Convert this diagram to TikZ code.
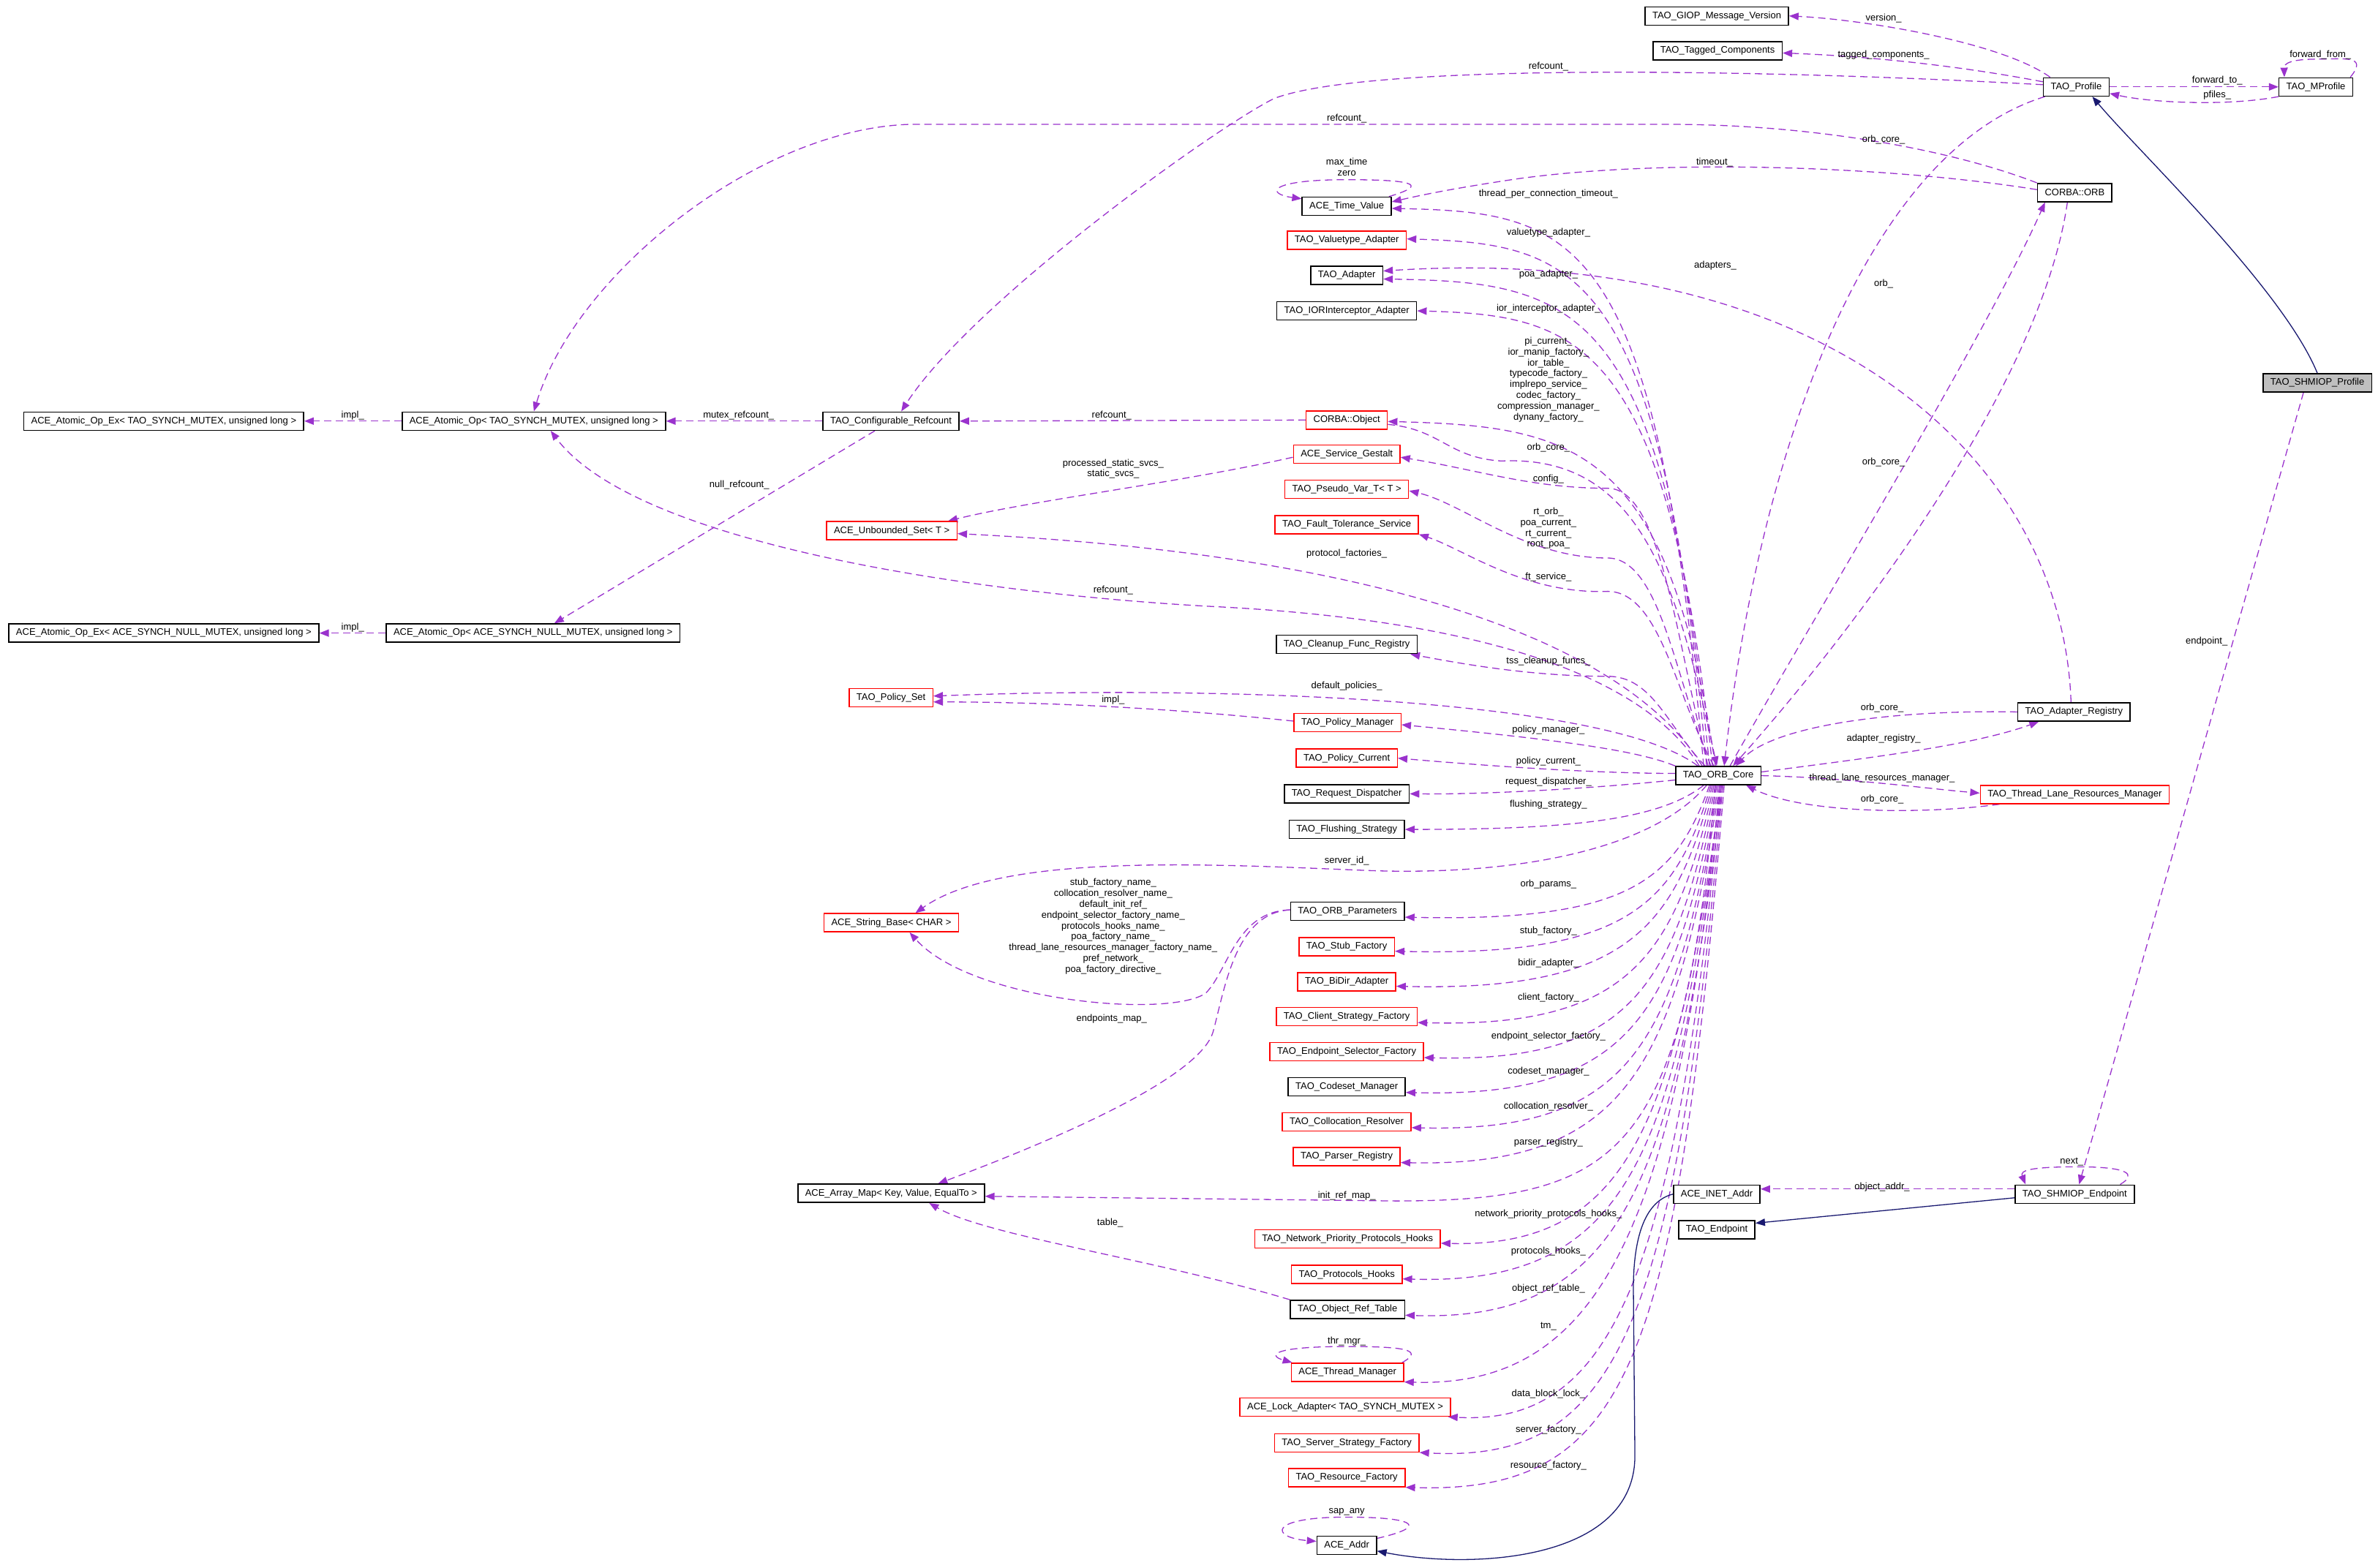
\documentclass[tikz,border=0pt]{standalone}
\usepackage{fontspec}
\setmainfont{Liberation Sans}
\usetikzlibrary{arrows.meta,backgrounds}
\definecolor{usecol}{HTML}{9A32CD}
\definecolor{inhcol}{HTML}{191970}
\definecolor{boxgrey}{HTML}{BFBFBF}
\newcommand{\dgfont}{\fontsize{13}{14.8}\selectfont}
\tikzset{
  box/.style={shape=rectangle,draw=black,line width=1.5pt,fill=white,font=\dgfont,inner xsep=10pt,inner ysep=2pt,minimum height=25pt},
  redbox/.style={box,draw=red},
  greybox/.style={box,fill=boxgrey},
  lbl/.style={font=\dgfont,inner sep=0pt,align=center},
  use/.style={draw=usecol,line width=1.3pt,dash pattern=on 10pt off 6pt,-{Triangle[length=13pt,width=10pt]}},
  inh/.style={draw=inhcol,line width=1.3pt,-{Triangle[length=13pt,width=10pt]}}
}

\begin{document}
\begin{tikzpicture}[x=2.0733pt,y=-2.0733pt]
  \useasboundingbox (0,0) rectangle (1568,1033.7);
  % classes
  \node[box] (GIOPVer) at (1132,10.5) {TAO\_GIOP\_Message\_Version};
  \node[box] (Tagged) at (1132.5,33.5) {TAO\_Tagged\_Components};
  \node[box] (Profile) at (1369,57.3) {TAO\_Profile};
  \node[box] (MProfile) at (1527,57.3) {TAO\_MProfile};
  \node[box] (ORB) at (1368,127) {CORBA::ORB};
  \node[greybox] (SHMProfile) at (1528,252.5) {TAO\_SHMIOP\_Profile};
  \node[box] (TimeValue) at (888,136) {ACE\_Time\_Value};
  \node[redbox] (Valuetype) at (888,158.5) {TAO\_Valuetype\_Adapter};
  \node[box] (Adapter) at (888,181.6) {TAO\_Adapter};
  \node[box] (IORInt) at (888,205) {TAO\_IORInterceptor\_Adapter};
  \node[box] (AtomicExMutex) at (108,277.7) {ACE\_Atomic\_Op\_Ex< TAO\_SYNCH\_MUTEX, unsigned long >};
  \node[box] (AtomicMutex) at (352,277.7) {ACE\_Atomic\_Op< TAO\_SYNCH\_MUTEX, unsigned long >};
  \node[box] (CfgRefcount) at (587.5,277.7) {TAO\_Configurable\_Refcount};
  \node[redbox] (CorbaObj) at (888,277) {CORBA::Object};
  \node[redbox] (Gestalt) at (888,299.6) {ACE\_Service\_Gestalt};
  \node[redbox] (PseudoVar) at (888,322.7) {TAO\_Pseudo\_Var\_T< T >};
  \node[redbox] (FaultTol) at (888,346) {TAO\_Fault\_Tolerance\_Service};
  \node[redbox] (UnbSet) at (588,350) {ACE\_Unbounded\_Set< T >};
  \node[box] (AtomicExNull) at (108,417.5) {ACE\_Atomic\_Op\_Ex< ACE\_SYNCH\_NULL\_MUTEX, unsigned long >};
  \node[box] (AtomicNull) at (351.5,417.5) {ACE\_Atomic\_Op< ACE\_SYNCH\_NULL\_MUTEX, unsigned long >};
  \node[box] (Cleanup) at (888,425) {TAO\_Cleanup\_Func\_Registry};
  \node[redbox] (PolicySet) at (587.5,460) {TAO\_Policy\_Set};
  \node[redbox] (PolicyMgr) at (888.5,476.5) {TAO\_Policy\_Manager};
  \node[box] (AdapterReg) at (1367.5,469.5) {TAO\_Adapter\_Registry};
  \node[redbox] (PolicyCur) at (888,500) {TAO\_Policy\_Current};
  \node[box] (ORBCore) at (1133,511.5) {TAO\_ORB\_Core};
  \node[redbox] (TLRM) at (1368,524) {TAO\_Thread\_Lane\_Resources\_Manager};
  \node[box] (ReqDisp) at (888,523.5) {TAO\_Request\_Dispatcher};
  \node[box] (Flushing) at (888,547) {TAO\_Flushing\_Strategy};
  \node[redbox] (StringBase) at (587.7,608.5) {ACE\_String\_Base< CHAR >};
  \node[box] (ORBParams) at (888.5,601) {TAO\_ORB\_Parameters};
  \node[redbox] (StubFact) at (888,624.4) {TAO\_Stub\_Factory};
  \node[redbox] (BiDir) at (888,647.5) {TAO\_BiDir\_Adapter};
  \node[redbox] (ClientStrat) at (888,670.5) {TAO\_Client\_Strategy\_Factory};
  \node[redbox] (EndpSel) at (888,693.6) {TAO\_Endpoint\_Selector\_Factory};
  \node[box] (Codeset) at (888,716.6) {TAO\_Codeset\_Manager};
  \node[redbox] (Colloc) at (888,739.8) {TAO\_Collocation\_Resolver};
  \node[redbox] (Parser) at (888,762.8) {TAO\_Parser\_Registry};
  \node[box] (ArrayMap) at (587.6,787) {ACE\_Array\_Map< Key, Value, EqualTo >};
  \node[box] (INETAddr) at (1132,787.5) {ACE\_INET\_Addr};
  \node[box] (SHMEndpoint) at (1368,787.5) {TAO\_SHMIOP\_Endpoint};
  \node[box] (Endpoint) at (1132,811) {TAO\_Endpoint};
  \node[redbox] (NetPrio) at (888.5,817) {TAO\_Network\_Priority\_Protocols\_Hooks};
  \node[redbox] (ProtoHooks) at (888,840.5) {TAO\_Protocols\_Hooks};
  \node[box] (ObjRefTable) at (888.5,863.5) {TAO\_Object\_Ref\_Table};
  \node[redbox] (ThreadMgr) at (888.5,905) {ACE\_Thread\_Manager};
  \node[redbox] (LockAdapter) at (887,928) {ACE\_Lock\_Adapter< TAO\_SYNCH\_MUTEX >};
  \node[redbox] (ServerStrat) at (888,951.5) {TAO\_Server\_Strategy\_Factory};
  \node[redbox] (ResFact) at (888,974.5) {TAO\_Resource\_Factory};
  \node[box] (Addr) at (888,1019) {ACE\_Addr};

  % member labels
  \node[lbl] (lVersion) at (1242,12) {version\_};
  \node[lbl] (lTagged) at (1242,36) {tagged\_components\_};
  \node[lbl] (lProfRef) at (1021,44) {refcount\_};
  \node[lbl] (lFwdTo) at (1462,53) {forward\_to\_};
  \node[lbl] (lPfiles) at (1462,63) {pfiles\_};
  \node[lbl] (lFwdFrom) at (1530,36) {forward\_from\_};
  \node[lbl] (lOrbRef) at (888,78) {refcount\_};
  \node[lbl] (lProfCore) at (1242,92) {orb\_core\_};
  \node[lbl] (lTimeout) at (1130.5,107) {timeout\_};
  \node[lbl] (lMaxTime) at (888,110.2) {max\_time\\zero};
  \node[lbl] (lTpct) at (1021,128) {thread\_per\_connection\_timeout\_};
  \node[lbl] (lValue) at (1021,153.6) {valuetype\_adapter\_};
  \node[lbl] (lAdapters) at (1131,175) {adapters\_};
  \node[lbl] (lPoa) at (1021,181) {poa\_adapter\_};
  \node[lbl] (lOrb) at (1242,187) {orb\_};
  \node[lbl] (lIor) at (1021,203.5) {ior\_interceptor\_adapter\_};
  \node[lbl] (lObjMembers) at (1021,250.3) {pi\_current\_\\ior\_manip\_factory\_\\ior\_table\_\\typecode\_factory\_\\implrepo\_service\_\\codec\_factory\_\\compression\_manager\_\\dynany\_factory\_};
  \node[lbl] (lImplMutex) at (232.6,274) {impl\_};
  \node[lbl] (lMutexRef) at (487,274) {mutex\_refcount\_};
  \node[lbl] (lObjRef) at (733,274) {refcount\_};
  \node[lbl] (lObjCore) at (1021,295.2) {orb\_core\_};
  \node[lbl] (lOrbCore) at (1242,305) {orb\_core\_};
  \node[lbl] (lStatic) at (734,309.2) {processed\_static\_svcs\_\\static\_svcs\_};
  \node[lbl] (lConfig) at (1021,316) {config\_};
  \node[lbl] (lNullRef) at (487.5,320) {null\_refcount\_};
  \node[lbl] (lPseudo) at (1021,348.4) {rt\_orb\_\\poa\_current\_\\rt\_current\_\\root\_poa\_};
  \node[lbl] (lProtoFact) at (888,365) {protocol\_factories\_};
  \node[lbl] (lFt) at (1021,380.7) {ft\_service\_};
  \node[lbl] (lCoreRef) at (734,389.3) {refcount\_};
  \node[lbl] (lImplNull) at (232.6,413.7) {impl\_};
  \node[lbl] (lEndpoint) at (1455,423) {endpoint\_};
  \node[lbl] (lTss) at (1021,436) {tss\_cleanup\_funcs\_};
  \node[lbl] (lDefPol) at (888,452.7) {default\_policies\_};
  \node[lbl] (lImplPol) at (734,461.6) {impl\_};
  \node[lbl] (lRegCore) at (1241,467) {orb\_core\_};
  \node[lbl] (lPolMgr) at (1021,481.3) {policy\_manager\_};
  \node[lbl] (lAdReg) at (1242,487) {adapter\_registry\_};
  \node[lbl] (lPolCur) at (1021,502) {policy\_current\_};
  \node[lbl] (lTlrm) at (1241,513) {thread\_lane\_resources\_manager\_};
  \node[lbl] (lReqDisp) at (1021,515.6) {request\_dispatcher\_};
  \node[lbl] (lTlrmCore) at (1241,527) {orb\_core\_};
  \node[lbl] (lFlush) at (1021,530.4) {flushing\_strategy\_};
  \node[lbl] (lServerId) at (888,567.5) {server\_id\_};
  \node[lbl] (lOrbParams) at (1021,583) {orb\_params\_};
  \node[lbl] (lNames) at (734,611) {stub\_factory\_name\_\\collocation\_resolver\_name\_\\default\_init\_ref\_\\endpoint\_selector\_factory\_name\_\\protocols\_hooks\_name\_\\poa\_factory\_name\_\\thread\_lane\_resources\_manager\_factory\_name\_\\pref\_network\_\\poa\_factory\_directive\_};
  \node[lbl] (lStub) at (1021,614.2) {stub\_factory\_};
  \node[lbl] (lBidir) at (1021,635.4) {bidir\_adapter\_};
  \node[lbl] (lClient) at (1021,658) {client\_factory\_};
  \node[lbl] (lEndpMap) at (733,671.8) {endpoints\_map\_};
  \node[lbl] (lEndpSel) at (1021,683.3) {endpoint\_selector\_factory\_};
  \node[lbl] (lCodeset) at (1021,706.5) {codeset\_manager\_};
  \node[lbl] (lColloc) at (1021,730) {collocation\_resolver\_};
  \node[lbl] (lParser) at (1021,753.6) {parser\_registry\_};
  \node[lbl] (lNext) at (1366,766) {next\_};
  \node[lbl] (lObjAddr) at (1241,783) {object\_addr\_};
  \node[lbl] (lInitRef) at (888,788.5) {init\_ref\_map\_};
  \node[lbl] (lNetPrio) at (1021,800.5) {network\_priority\_protocols\_hooks\_};
  \node[lbl] (lTable) at (732,806.3) {table\_};
  \node[lbl] (lProtoHooks) at (1021,825.5) {protocols\_hooks\_};
  \node[lbl] (lObjRefTab) at (1021,849.8) {object\_ref\_table\_};
  \node[lbl] (lTm) at (1021,874.8) {tm\_};
  \node[lbl] (lThrMgr) at (888,884.4) {thr\_mgr\_};
  \node[lbl] (lDataBlock) at (1021,919.5) {data\_block\_lock\_};
  \node[lbl] (lServer) at (1021,943.2) {server\_factory\_};
  \node[lbl] (lResource) at (1021,966.5) {resource\_factory\_};
  \node[lbl] (lSapAny) at (888,997.2) {sap\_any};

  \begin{scope}[on background layer]
    % TAO_Profile and its neighbours
    \draw[use] ([xshift=10pt]Profile.north west) .. controls (1320,28) and (1230,13) .. (GIOPVer.east);
    \draw[use] ([yshift=7pt]Profile.west) .. controls (1290,43) and (1230,37) .. ([yshift=-3pt]Tagged.east);
    \draw[use] ([yshift=3pt]Profile.west) .. controls (1150,45) and (900,42) .. (840,65) .. controls (800,85) and (640,200) .. ([xshift=14pt]CfgRefcount.north);
    \draw[use] (Profile.east) -- (MProfile.west);
    \draw[use] (MProfile.south west) .. controls (1470,70) and (1420,68) .. ([yshift=-9pt]Profile.east);
    \draw[use] ([xshift=-4pt]MProfile.north east) .. controls (1562,36) and (1545,39) .. (1528,39) .. controls (1510,39) and (1506,42) .. ([xshift=8pt]MProfile.north west);
    \draw[inh] (SHMProfile.north) .. controls (1505,190) and (1410,100) .. ([xshift=22pt]Profile.south);
    \draw[use] ([xshift=-19pt]SHMProfile.south) -- ([xshift=6pt]SHMEndpoint.north);
    \draw[use] ([xshift=3pt]Profile.south west) .. controls (1230,100) and (1160,300) .. ([xshift=8pt]ORBCore.north);
    % CORBA::ORB
    \draw[use] (ORB.north west) .. controls (1290,100) and (1200,82) .. (1100,82) -- (600,82) .. controls (500,85) and (380,180) .. (AtomicMutex.north);
    \draw[use] ([yshift=4pt]ORB.west) .. controls (1250,110) and (1100,104) .. (1000,118) .. controls (960,124) and (940,128) .. ([yshift=6pt]TimeValue.east);
    \draw[use] ([xshift=-4pt]TimeValue.north east) .. controls (945,121) and (928,118.5) .. (888,118.5) .. controls (835,118.5) and (835,128) .. ([yshift=-3pt]TimeValue.north west);
    \draw[use] ([xshift=16pt]ORBCore.north) .. controls (1200,400) and (1310,220) .. ([xshift=11pt]ORB.south west);
    \draw[use] ([xshift=-10pt]ORB.south) .. controls (1345,260) and (1210,430) .. ([xshift=20pt]ORBCore.north);
    % adapter registry, lane resources
    \draw[use] ([xshift=-4pt]AdapterReg.north) .. controls (1360,300) and (1200,160) .. ([yshift=6pt]Adapter.east);
    \draw[use] (AdapterReg.west) .. controls (1250,468) and (1170,478) .. ([xshift=24pt]ORBCore.north);
    \draw[use] ([yshift=5pt]ORBCore.east) .. controls (1230,500) and (1300,492) .. ([xshift=-48pt]AdapterReg.south);
    \draw[use] (ORBCore.east) .. controls (1220,513) and (1270,520) .. ([yshift=2pt]TLRM.west);
    \draw[use] ([xshift=27pt]TLRM.south west) .. controls (1270,537) and (1190,537) .. ([xshift=-21pt]ORBCore.south east);
    % TAO_ORB_Core, upper members
    \draw[use] ([xshift=-20pt]ORBCore.north) .. controls (1092,153) and (1040,140) .. ([yshift=-3pt]TimeValue.east);
    \draw[use] ([xshift=-16pt]ORBCore.north) .. controls (1095,175) and (1040,161) .. ([yshift=2pt]Valuetype.east);
    \draw[use] ([xshift=-12pt]ORBCore.north) .. controls (1097,200) and (1040,186) .. ([yshift=-5pt]Adapter.east);
    \draw[use] ([xshift=-8pt]ORBCore.north) .. controls (1099,222) and (1040,208) .. (IORInt.east);
    \draw[use] ([xshift=-4pt]ORBCore.north) .. controls (1100,295) and (1040,281) .. ([yshift=-2pt]CorbaObj.east);
    \draw[use] ([yshift=-6pt]CorbaObj.east) .. controls (950,283) and (955,302) .. (990,304) .. controls (1080,300) and (1105,380) .. ([xshift=-2pt]ORBCore.north);
    \draw[use] ([xshift=-14pt]ORBCore.north) .. controls (1105,420) and (1095,322) .. (1060,322) .. controls (1010,322) and (975,310) .. ([yshift=-4pt]Gestalt.east);
    \draw[use] ([xshift=-10pt]ORBCore.north) .. controls (1105,450) and (1095,368) .. (1060,368) .. controls (1005,368) and (965,332) .. ([yshift=-2pt]PseudoVar.east);
    \draw[use] ([xshift=-6pt]ORBCore.north) .. controls (1105,460) and (1095,390) .. (1060,390) .. controls (1005,392) and (965,362) .. (FaultTol.south east);
    \draw[use] ([xshift=-22pt]ORBCore.north) .. controls (1070,420) and (900,365) .. ([yshift=-4pt]UnbSet.east);
    \draw[use] ([xshift=-26pt]ORBCore.north) .. controls (1080,440) and (960,408) .. (800,400) .. controls (650,392) and (420,360) .. ([xshift=23pt]AtomicMutex.south);
    \draw[use] ([xshift=-18pt]ORBCore.north) .. controls (1100,480) and (1090,446) .. (1060,446) .. controls (1010,446) and (965,438) .. ([xshift=-10pt]Cleanup.south east);
    \draw[use] ([xshift=-28pt]ORBCore.north) .. controls (1060,460) and (800,452) .. ([yshift=2pt]PolicySet.east);
    \draw[use] (ORBCore.north west) .. controls (1080,495) and (1030,488) .. ([yshift=-3pt]PolicyMgr.east);
    \draw[use] ([yshift=3pt]ORBCore.west) .. controls (1050,510) and (980,505) .. (PolicyCur.east);
    \draw[use] ([yshift=-6pt]ORBCore.west) .. controls (1050,520) and (980,524) .. (ReqDisp.east);
    % TAO_ORB_Core, lower members
    \draw[use] ([xshift=-20pt]ORBCore.south) .. controls (1095,540) and (1040,547) .. (Flushing.east);
    \draw[use] ([xshift=-16pt]ORBCore.south) .. controls (1090,560) and (1000,578) .. (900,574) .. controls (800,570) and (660,562) .. ([xshift=33pt]StringBase.north);
    \draw[use] ([xshift=-12pt]ORBCore.south) .. controls (1105,580) and (1075,608) .. ([yshift=-8pt]ORBParams.east);
    \draw[use] ([xshift=-10pt]ORBCore.south) .. controls (1105,595) and (1075,631) .. ([yshift=-6pt]StubFact.east);
    \draw[use] ([xshift=-8pt]ORBCore.south) .. controls (1105,610) and (1075,654) .. ([yshift=-6pt]BiDir.east);
    \draw[use] ([xshift=-6pt]ORBCore.south) .. controls (1105,630) and (1075,678) .. ([yshift=-8pt]ClientStrat.east);
    \draw[use] ([xshift=-4pt]ORBCore.south) .. controls (1105,650) and (1075,701) .. ([yshift=-8pt]EndpSel.east);
    \draw[use] ([xshift=-2pt]ORBCore.south) .. controls (1105,670) and (1075,724) .. ([yshift=-8pt]Codeset.east);
    \draw[use] (ORBCore.south) .. controls (1105,690) and (1075,747) .. ([yshift=-8pt]Colloc.east);
    \draw[use] ([xshift=2pt]ORBCore.south) .. controls (1105,700) and (1075,770) .. ([yshift=-8pt]Parser.east);
    \draw[use] ([xshift=-4pt]ORBCore.south) .. controls (1110,760) and (1070,792) .. (920,792) -- ([yshift=-4pt]ArrayMap.east);
    \draw[use] ([xshift=4pt]ORBCore.south) .. controls (1105,740) and (1075,823) .. ([yshift=-6pt]NetPrio.east);
    \draw[use] ([xshift=4pt]ORBCore.south) .. controls (1105,760) and (1075,848) .. ([yshift=-6pt]ProtoHooks.east);
    \draw[use] ([xshift=6pt]ORBCore.south) .. controls (1105,780) and (1070,872) .. ([yshift=-8pt]ObjRefTable.east);
    \draw[use] ([xshift=2pt]ORBCore.south) .. controls (1105,820) and (1050,915) .. (ThreadMgr.south east);
    \draw[use] ([xshift=4pt]ORBCore.south) .. controls (1105,850) and (1060,940) .. ([xshift=-4pt]LockAdapter.south east);
    \draw[use] ([xshift=6pt]ORBCore.south) .. controls (1105,880) and (1065,965) .. (ServerStrat.south east);
    \draw[use] ([xshift=8pt]ORBCore.south) .. controls (1105,900) and (1075,985) .. (ResFact.south east);
    \draw[use] ([xshift=-3pt]ThreadMgr.north east) .. controls (940,890) and (925,888) .. (888,888) .. controls (838,888) and (836,894) .. ([xshift=2pt]ThreadMgr.north west);
    % left part
    \draw[use] (CorbaObj.west) -- (CfgRefcount.east);
    \draw[use] (CfgRefcount.west) -- (AtomicMutex.east);
    \draw[use] (AtomicMutex.west) -- (AtomicExMutex.east);
    \draw[use] (AtomicNull.west) -- (AtomicExNull.east);
    \draw[use] ([xshift=-22pt]CfgRefcount.south) -- ([xshift=29pt]AtomicNull.north);
    \draw[use] ([yshift=-4pt]Gestalt.west) .. controls (780,318) and (680,330) .. ([xshift=-13pt]UnbSet.north east);
    \draw[use] ([yshift=2pt]PolicyMgr.west) .. controls (780,468) and (700,463) .. ([yshift=-6pt]PolicySet.east);
    \draw[use] ([yshift=2pt]ORBParams.west) .. controls (815,601) and (810,640) .. (795,655) .. controls (770,672) and (640,660) .. ([xshift=25pt]StringBase.south);
    \draw[use] ([yshift=2pt]ORBParams.west) .. controls (815,602) and (808,650) .. (800,680) .. controls (792,710) and (700,750) .. ([xshift=64pt]ArrayMap.north);
    \draw[use] (ObjRefTable.north west) .. controls (760,830) and (650,815) .. ([xshift=52pt]ArrayMap.south);
    % endpoints and addresses
    \draw[use] ([yshift=7pt]SHMEndpoint.west) -- ([yshift=7pt]INETAddr.east);
    \draw[inh] ([yshift=-5pt]SHMEndpoint.west) -- ([yshift=9pt]Endpoint.east);
    \draw[use] ([xshift=-20pt]SHMEndpoint.north east) .. controls (1410,774) and (1402,769.5) .. (1370,769.5) .. controls (1338,769.5) and (1332,772) .. ([xshift=15pt]SHMEndpoint.north west);
    \draw[inh] (INETAddr.west) .. controls (1085,792) and (1077,815) .. (1077,850) -- (1078,960) .. controls (1078,1030) and (970,1035) .. ([yshift=-8pt]Addr.east);
    \draw[use] ([yshift=-4pt]Addr.north east) .. controls (945,1006) and (930,1000.5) .. (888,1000.5) .. controls (835,1000.5) and (838,1014) .. ([yshift=-8pt]Addr.north west);
  \end{scope}
\end{tikzpicture}
\end{document}
